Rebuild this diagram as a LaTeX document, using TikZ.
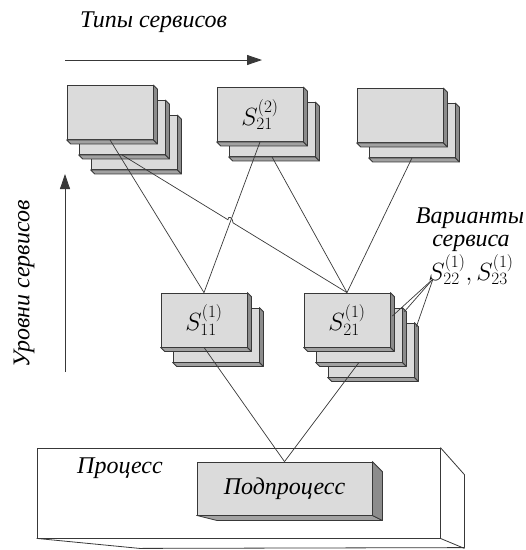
\documentclass[tikz,border=0pt]{standalone}
\usepackage{fontspec}
\setmainfont{Liberation Serif}
\usepackage{tikz}
\usetikzlibrary{arrows.meta,calc,intersections}
\definecolor{facegray}{gray}{0.86}
\definecolor{sidegray}{gray}{0.55}
\definecolor{basegray}{gray}{0.63}
\definecolor{edgegray}{gray}{0.22}
\tikzstyle{svc}=[draw=edgegray,fill=facegray,line width=0.8pt,minimum width=86pt,minimum height=54pt,inner sep=0pt,font=\fontsize{24}{26}\selectfont]
\tikzstyle{link}=[draw=edgegray,line width=0.7pt]
\tikzstyle{caption}=[font=\fontsize{24}{26}\selectfont\itshape,inner sep=0pt]
\tikzstyle{axis}=[draw=edgegray,line width=0.8pt,-{Triangle[length=15pt,width=10pt]}]

% side and bottom faces of a box
\newcommand{\boxfaces}[2]{%
  \draw[fill=basegray,draw=edgegray,line width=0.8pt,line join=round] (#1.south west) -- (#1.south east) -- ++(#2,#2) -- ($(#1.south west)+(#2,#2)$) -- cycle;
  \draw[fill=sidegray,draw=edgegray,line width=0.8pt,line join=round] (#1.north east) -- ++(#2,#2) -- ($(#1.south east)+(#2,#2)$) -- (#1.south east) -- cycle;}

% stack of service variants: name, x, y, copies, label
\newcommand{\svcstack}[5]{%
  \foreach \k in {#4,...,2}{
    \node[svc] (#1-\k) at ({#2+12*(\k-1)},{#3+15*(\k-1)}) {};
    \boxfaces{#1-\k}{4}
  }
  \node[svc] (#1) at (#2,#3) {#5};
  \boxfaces{#1}{4}}

\begin{document}
\begin{tikzpicture}[x=1pt,y=-1pt]
    \useasboundingbox (0,0) rectangle (526,550);

    % axes
    \node[caption,anchor=base west] (types) at (80,27) {Типы сервисов};
    \coordinate (typestail) at (65,60);
    \coordinate (typeshead) at (262,60);
    \draw[axis] (typestail) -- (typeshead);
    \node[caption,rotate=90] (levels) at (24,284) {Уровни сервисов};
    \coordinate (levelstail) at (65,372);
    \coordinate (levelshead) at (65,174);
    \draw[axis] (levelstail) -- (levelshead);

    % process
    \node[draw=edgegray,fill=white,line width=0.8pt,minimum width=403pt,minimum height=90pt] (proc) at (238.5,493) {};
    \draw[draw=edgegray,line width=0.8pt,line join=round] (proc.north east) -- ++(24,27) -- ++(0,73) -- ($(proc.south west)+(103,10)$) -- (proc.south west);
    \draw[draw=edgegray,line width=0.8pt] (proc.south east) -- ++(24,10);
    \node[caption,anchor=base west] (proclabel) at (77,473) {Процесс};

    \node[svc,minimum width=175pt,minimum height=53pt,font=\fontsize{24}{26}\selectfont\itshape] (sub) at (284.5,488.5) {Подпроцесс};
    \draw[fill=basegray,draw=edgegray,line width=0.8pt,line join=round] (sub.south west) -- (sub.south east) -- ++(10,5) -- ($(sub.south west)+(20,5)$) -- cycle;
    \draw[fill=sidegray,draw=edgegray,line width=0.8pt,line join=round] (sub.north east) -- ++(10,10) -- ($(sub.south east)+(10,5)$) -- (sub.south east) -- cycle;

    % service stacks
    \svcstack{t1}{110}{112.5}{3}{}
    \svcstack{t2}{260}{114.5}{2}{$S^{(2)}_{21}$}
    \svcstack{t3}{400}{115.5}{2}{}
    \svcstack{m1}{204}{320}{2}{$S^{(1)}_{11}$}
    \svcstack{m2}{347}{320}{3}{$S^{(1)}_{21}$}

    % links
    \draw[link] (t1.south) -- (m1.north);
    \draw[link,name path=crossa] (t2.south) -- (m1.north);
    \path[name path=crossb] (t1-2.south) -- (m2.north);
    \path[name intersections={of=crossa and crossb,by=hop}];
    \draw[link] (t1-2.south) -- ($(hop)!3pt!(t1-2.south)$) .. controls +(0,-5) and +(0,-5) .. ($(hop)!3pt!(m2.north)$) -- (m2.north);
    \draw[link] (t2-2.south) -- (m2.north);
    \draw[link] (t3-2.south) -- (m2.north);
    \draw[link] (m1.south) -- (sub.north);
    \draw[link] (m2-2.south) -- (sub.north);

    % variants
    \node[caption,anchor=base] (var1) at (470,223) {Варианты};
    \node[caption,anchor=base] (var2) at (471,246) {сервиса};
    \node[caption,anchor=base] (var3) at (471,280) {$S^{(1)}_{22}, S^{(1)}_{23}$};
    \coordinate (apex) at (433,279);
    \draw[link] (apex) -- ($(m2.east)+(2,-4)$);
    \draw[link] (apex) -- ($(m2-2.north east)+(2,4)$);
    \draw[link] (apex) -- ($(m2-3.north east)+(2,4)$);
\end{tikzpicture}
\end{document}
